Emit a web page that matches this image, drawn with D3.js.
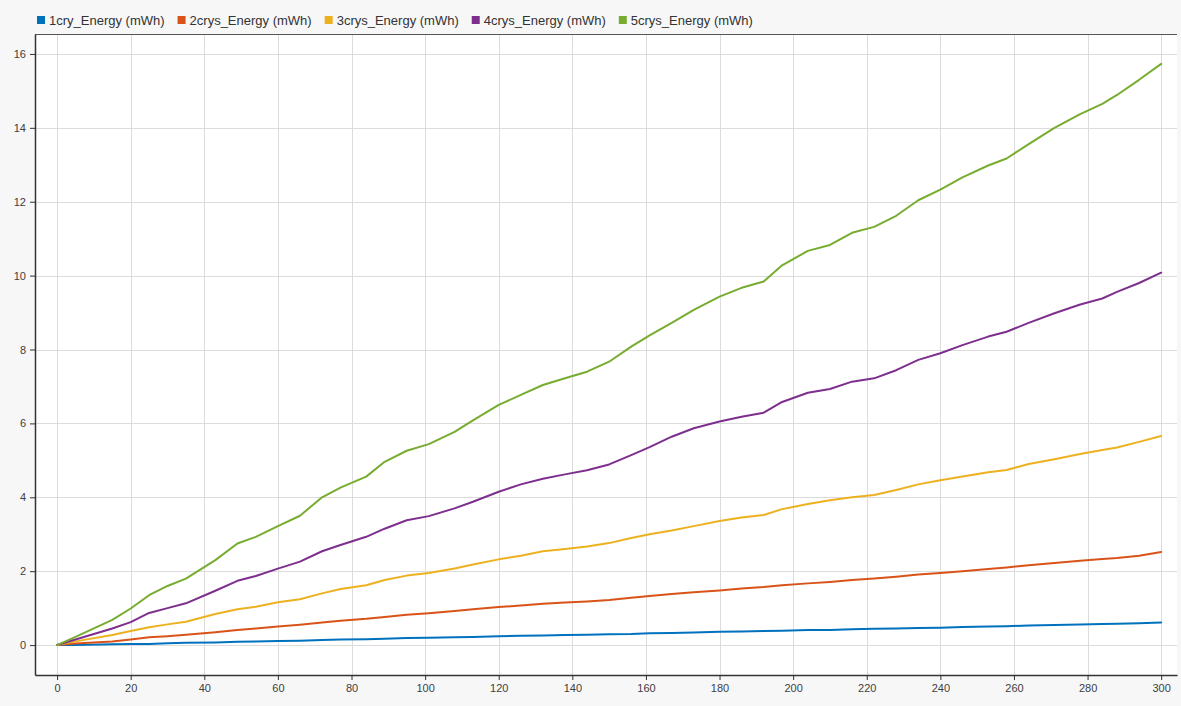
<!DOCTYPE html>
<html>
<head>
<meta charset="utf-8">
<script src="https://cdn.jsdelivr.net/npm/d3@7"></script>
<style>
  html, body { margin: 0; padding: 0; background: #f7f7f7; }
  svg { display: block; }
  text { font-family: "Liberation Sans", Arial, sans-serif; }
</style>
</head>
<body>
<svg id="chart" width="1181" height="706"></svg>
<script>
const time = [0,5,15,20,25,30,35,43,49,54,60,66,72,77,84,89,95,101,108,113,120,126,132,138,144,150,156,161,167,173,180,186,192,197,204,210,216,222,228,234,240,246,253,258,264,271,278,284,288,294,300];

const cry1 = [0,0.00,0.02,0.03,0.03,0.05,0.06,0.07,0.09,0.10,0.11,0.12,0.14,0.15,0.16,0.17,0.19,0.20,0.21,0.22,0.24,0.25,0.26,0.27,0.28,0.29,0.30,0.32,0.33,0.34,0.36,0.37,0.38,0.39,0.41,0.41,0.43,0.44,0.45,0.46,0.47,0.49,0.50,0.51,0.53,0.54,0.56,0.57,0.58,0.59,0.61];
const crys2 = [0,0.04,0.10,0.15,0.21,0.24,0.28,0.35,0.41,0.45,0.50,0.55,0.61,0.66,0.71,0.76,0.82,0.86,0.92,0.97,1.03,1.07,1.12,1.15,1.18,1.22,1.28,1.33,1.38,1.43,1.48,1.53,1.57,1.62,1.67,1.71,1.76,1.80,1.85,1.91,1.95,2.00,2.06,2.10,2.16,2.22,2.28,2.33,2.36,2.42,2.52];
const crys3 = [0,0.10,0.27,0.38,0.48,0.56,0.63,0.84,0.97,1.04,1.16,1.24,1.40,1.52,1.62,1.76,1.88,1.95,2.07,2.18,2.32,2.42,2.54,2.60,2.67,2.76,2.90,3.00,3.10,3.22,3.36,3.45,3.52,3.68,3.82,3.92,4.00,4.06,4.20,4.35,4.46,4.56,4.68,4.74,4.90,5.03,5.17,5.28,5.35,5.50,5.66];
const crys4 = [0,0.15,0.45,0.62,0.87,1.00,1.13,1.47,1.74,1.87,2.07,2.26,2.54,2.71,2.93,3.15,3.38,3.49,3.70,3.88,4.15,4.35,4.50,4.62,4.73,4.89,5.14,5.36,5.64,5.87,6.05,6.18,6.29,6.58,6.83,6.93,7.13,7.22,7.44,7.72,7.90,8.12,8.35,8.48,8.72,8.98,9.22,9.38,9.56,9.80,10.08];
const crys5 = [0,0.22,0.68,0.99,1.35,1.60,1.80,2.30,2.75,2.93,3.22,3.50,4.00,4.26,4.56,4.96,5.26,5.44,5.77,6.08,6.50,6.77,7.04,7.22,7.40,7.67,8.08,8.38,8.72,9.07,9.43,9.67,9.84,10.28,10.67,10.83,11.16,11.32,11.62,12.04,12.33,12.66,12.98,13.17,13.56,14.00,14.37,14.65,14.89,15.30,15.73];

const seriesNames = ["1cry_Energy (mWh)","2crys_Energy (mWh)","3crys_Energy (mWh)","4crys_Energy (mWh)","5crys_Energy (mWh)"];
const seriesValues = [cry1, crys2, crys3, crys4, crys5];
const colors = ["#0072BD","#D95319","#EDB120","#7E2F8E","#77AC30"];
const xTicks = [0,20,40,60,80,100,120,140,160,180,200,220,240,260,280,300];
const yTicks = [0,2,4,6,8,10,12,14,16];

const svg = d3.select("#chart");
const L = 35, R = 1177, T = 34, B = 675;

const x = d3.scaleLinear().domain([-6, 304.3]).range([L, R]);
const y = d3.scaleLinear().domain([-0.81, 16.54]).range([B, T]);

svg.append("rect").attr("x", L).attr("y", T).attr("width", R - L).attr("height", B - T).attr("fill", "#ffffff");

const grid = svg.append("g");
grid.selectAll(".vx").data(xTicks).enter().append("line")
  .attr("x1", d => Math.round(x(d)) + 0.5).attr("x2", d => Math.round(x(d)) + 0.5)
  .attr("y1", T).attr("y2", B).attr("stroke", "#dcdcdc").attr("stroke-width", 1);
grid.selectAll(".hy").data(yTicks).enter().append("line")
  .attr("y1", d => Math.round(y(d)) + 0.5).attr("y2", d => Math.round(y(d)) + 0.5)
  .attr("x1", L).attr("x2", R).attr("stroke", "#dcdcdc").attr("stroke-width", 1);

const line = d3.line().x((d, i) => x(time[i])).y(d => y(d));
seriesValues.forEach((vals, k) => {
  svg.append("path").datum(vals).attr("d", line)
    .attr("fill", "none").attr("stroke", colors[k]).attr("stroke-width", 2)
    .attr("stroke-linejoin", "round").attr("stroke-linecap", "round");
});

svg.append("line").attr("x1", L).attr("x2", R).attr("y1", T + 0.5).attr("y2", T + 0.5).attr("stroke", "#555").attr("stroke-width", 1);

const xAxis = d3.axisBottom(x).tickValues(xTicks).tickSize(5).tickPadding(4).tickSizeOuter(0);
const yAxis = d3.axisLeft(y).tickValues(yTicks).tickSize(5).tickPadding(4).tickSizeOuter(0);

const gx = svg.append("g").attr("transform", `translate(0,${B})`).call(xAxis);
const gy = svg.append("g").attr("transform", `translate(${L},0)`).call(yAxis);
[gx, gy].forEach(g => {
  g.select(".domain").attr("stroke", "#333").attr("stroke-width", 1.5);
  g.selectAll(".tick line").attr("stroke", "#333");
  g.selectAll(".tick text").attr("fill", "#404040").style("font-size", "11px")
    .style("font-family", "'Liberation Sans', Arial, sans-serif");
});

const leg = svg.append("g").attr("transform", "translate(37,20)");
let cx = 0;
seriesNames.forEach((name, k) => {
  const g = leg.append("g").attr("transform", `translate(${cx},0)`);
  g.append("rect").attr("x", 0).attr("y", -4).attr("width", 8).attr("height", 8).attr("fill", colors[k]);
  const t = g.append("text").attr("x", 12).attr("y", 4.5).attr("fill", "#333")
    .style("font-size", "13px").text(name);
  const w = t.node().getComputedTextLength();
  cx += 12 + w + 13;
});
</script>
</body>
</html>
